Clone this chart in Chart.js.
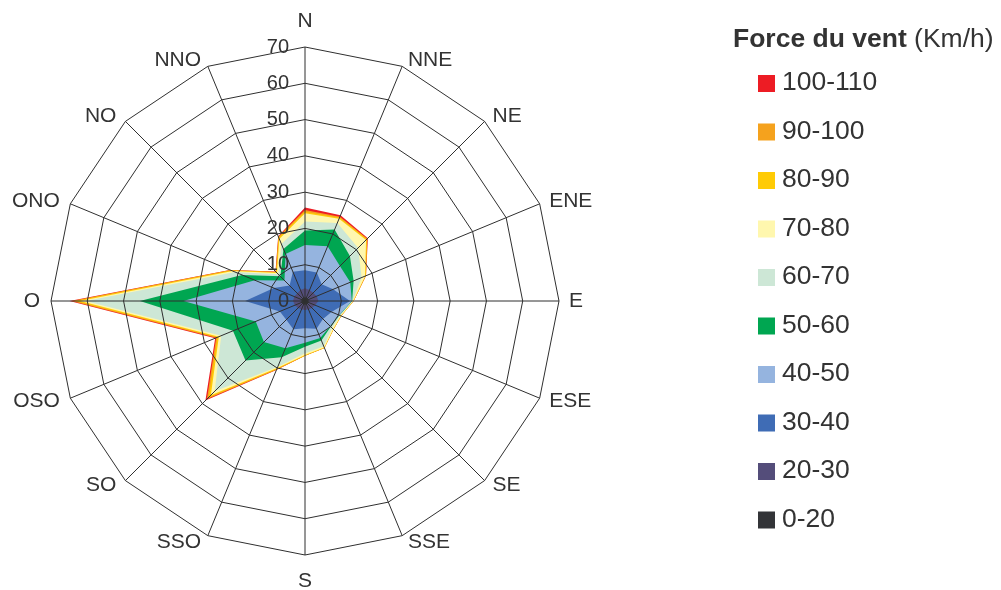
<!DOCTYPE html>
<html lang="fr">
<head>
<meta charset="utf-8">
<title>Rose des vents</title>
<script src="https://cdn.jsdelivr.net/npm/chart.js@4/dist/chart.umd.min.js"></script>
<style>
  body { margin: 0; background: #fff; }
  canvas { display: block; }
</style>
</head>
<body>
<canvas id="roseVents" width="1001" height="590"></canvas>
<script>
// Directions, du nord dans le sens horaire
const directions = ['N', 'NNE', 'NE', 'ENE', 'E', 'ESE', 'SE', 'SSE', 'S', 'SSO', 'SO', 'OSO', 'O', 'ONO', 'NO', 'NNO'];

// Valeurs par classe de force du vent (Km/h), une par direction
const v0_20    = [1.0, 1.0, 1.0, 1.0, 1.0, 1.0, 1.0, 1.0, 1.0, 1.0, 1.0, 1.0, 1.0, 1.0, 1.0, 1.0];
const v20_30   = [2.5, 2.3, 2.2, 2.5, 2.7, 2.0, 1.7, 1.5, 1.5, 1.5, 1.7, 2.0, 2.3, 2.2, 2.0, 2.3];
const v30_40   = [5.0, 5.2, 3.3, 4.9, 8.7, 4.9, 4.3, 5.8, 5.0, 5.9, 4.6, 4.5, 13.2, 6.1, 3.0, 5.4];
const v40_50   = [6.9, 7.8, 7.1, 5.1, 0.5, 2.3, 2.8, 2.7, 4.0, 5.7, 8.7, 7.2, 17.0, 5.7, 2.0, 5.3];
const v50_60   = [4.0, 5.0, 3.9, 1.0, 0.1, 0.1, 0.2, 0.8, 1.1, 2.7, 7.2, 6.8, 12.0, 3.8, 1.6, 1.5];
const v60_70   = [2.5, 2.0, 3.2, 2.4, 0.1, 0.2, 0.5, 1.7, 1.8, 2.8, 12.0, 3.5, 15.0, 2.0, 0.8, 1.5];
const v70_80   = [2.3, 1.2, 3.1, 1.0, 0.2, 0.2, 0.5, 0.4, 0.5, 0.4, 1.5, 0.7, 1.5, 0.8, 0.5, 1.5];
const v80_90   = [0.4, 0.3, 0.3, 0.2, 0.1, 0.1, 0.1, 0.1, 0.2, 0.3, 0.8, 0.4, 1.3, 0.4, 0.3, 0.4];
const v90_100  = [0.5, 0.3, 0.2, 0.1, 0.0, 0.0, 0.0, 0.0, 0.0, 0.2, 0.7, 0.4, 1.0, 0.3, 0.2, 0.3];
const v100_110 = [0.7, 0.5, 0.2, 0.0, 0.0, 0.0, 0.0, 0.0, 0.0, 0.1, 0.6, 0.3, 0.6, 0.1, 0.1, 0.1];

const classes = ['0-20', '20-30', '30-40', '40-50', '50-60', '60-70', '70-80', '80-90', '90-100', '100-110'];
const couleurs = ['#333438', '#544d7a', '#3f6cb5', '#95b4df', '#00a651', '#cde7d6', '#fff7ae', '#ffcb05', '#f5a21d', '#ed1c24'];
const graduations = [0, 10, 20, 30, 40, 50, 60, 70];

const police = '"Liberation Sans", Arial, sans-serif';
Chart.defaults.font.family = police;

// Les classes sont empilées : chaque aire part du centre jusqu'au cumul
const series = [v0_20, v20_30, v30_40, v40_50, v50_60, v60_70, v70_80, v80_90, v90_100, v100_110];
let cumul = directions.map(() => 0);
const datasets = series.map((serie, i) => {
  cumul = cumul.map((c, j) => +(c + serie[j]).toFixed(2));
  return {
    label: classes[i],
    data: cumul,
    backgroundColor: couleurs[i],
    borderColor: 'rgba(0,0,0,0)',
    borderWidth: 0,
    pointRadius: 0,
    fill: 'origin'
  };
});

// Noms des directions, centrés sur le prolongement de chaque rayon
const etiquettesPlugin = {
  id: 'etiquettes',
  afterDraw(chart) {
    const r = chart.scales.r;
    const ctx = chart.ctx;
    ctx.save();
    ctx.font = '21px ' + police;
    ctx.fillStyle = '#333';
    ctx.textBaseline = 'middle';
    directions.forEach((nom, i) => {
      const vertical = (i % 8 === 0);
      const p = r.getPointPosition(i, r.drawingArea + (vertical ? 26 : 7));
      if (vertical) {
        ctx.textAlign = 'center';
        ctx.fillText(nom, p.x, p.y);
      } else if (i < 8) {
        ctx.textAlign = 'left';
        ctx.fillText(nom, p.x + 3, p.y);
      } else {
        ctx.textAlign = 'right';
        ctx.fillText(nom, p.x - 4, p.y);
      }
    });
    ctx.restore();
  }
};

// Graduations à gauche de l'axe nord (0 compris)
const graduationsPlugin = {
  id: 'graduations',
  afterDraw(chart) {
    const r = chart.scales.r;
    const ctx = chart.ctx;
    ctx.save();
    ctx.font = '20px ' + police;
    ctx.fillStyle = '#333';
    ctx.textAlign = 'right';
    ctx.textBaseline = 'middle';
    graduations.forEach(v => {
      ctx.fillText(String(v), r.xCenter - 16, r.yCenter - r.getDistanceFromCenterForValue(v));
    });
    ctx.restore();
  }
};

// Légende à droite, de la classe la plus forte à la plus faible
const legendePlugin = {
  id: 'legende',
  afterDraw(chart) {
    const ctx = chart.ctx;
    ctx.save();
    ctx.textBaseline = 'middle';
    ctx.fillStyle = '#333';
    ctx.font = 'bold 26.5px ' + police;
    const titre = 'Force du vent ';
    ctx.fillText(titre, 733, 40);
    const w = ctx.measureText(titre).width;
    ctx.font = '26.5px ' + police;
    ctx.fillText('(Km/h)', 733 + w, 40);

    chart.data.datasets.slice().reverse().forEach((ds, i) => {
      const y = 83.5 + i * 48.5;
      ctx.fillStyle = ds.backgroundColor;
      ctx.fillRect(758, y - 8.5, 17, 17);
      ctx.fillStyle = '#333';
      ctx.fillText(ds.label, 782, y - 0.5);
    });
    ctx.restore();
  }
};

new Chart(document.getElementById('roseVents'), {
  type: 'radar',
  data: {
    labels: directions,
    datasets: datasets
  },
  options: {
    responsive: false,
    animation: false,
    layout: { padding: { left: 51, right: 442, top: 47, bottom: 35 } },
    plugins: {
      legend: { display: false },
      tooltip: { enabled: false }
    },
    scales: {
      r: {
        min: 0,
        max: 70,
        ticks: { display: false, stepSize: 10 },
        grid: { color: '#2f2f2f', lineWidth: 1, z: 1 },
        angleLines: { color: '#2f2f2f', lineWidth: 1 },
        pointLabels: { display: false }
      }
    }
  },
  plugins: [etiquettesPlugin, graduationsPlugin, legendePlugin]
});
</script>
</body>
</html>
